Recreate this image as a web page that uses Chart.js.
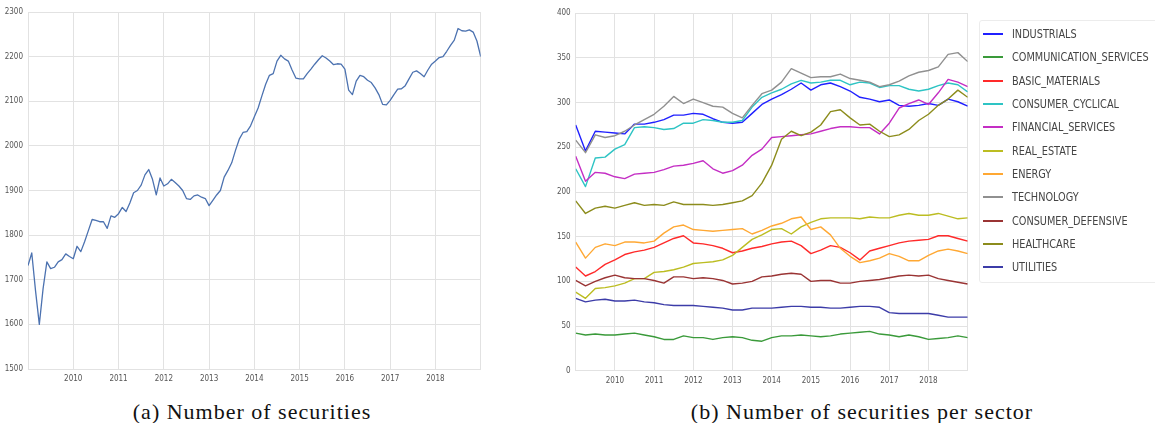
<!DOCTYPE html>
<html>
<head>
<meta charset="utf-8">
<script src="https://cdn.jsdelivr.net/npm/chart.js@4.4.0/dist/chart.umd.min.js"></script>
<style>
  body { margin: 0; background: #fff; width: 1155px; height: 423px; overflow: hidden; position: relative; }
  canvas { position: absolute; top: 0; }
  #chartA { left: 0; }
  #chartB { left: 540px; }
  .caption { position: absolute; top: 401px; font-family: "Liberation Serif", serif; font-size: 22px;
             letter-spacing: 1px; line-height: 22px; color: #111; white-space: nowrap; transform: translateX(-50%); }
  #legend { position: absolute; left: 979px; top: 20px; width: 190px; height: 261px;
            border: 1px solid #ececec; border-radius: 3px; }
  .item { position: absolute; left: 0; height: 14px; white-space: nowrap;
          font: 12px "Liberation Sans Narrow", "DejaVu Sans Condensed", sans-serif; color: #444; }
  .swatch { position: absolute; left: 3px; top: 6px; width: 20px; height: 2px; }
  .label { position: absolute; left: 32px; top: 0; line-height: 14px; transform: scaleX(0.9); transform-origin: left center; }
</style>
</head>
<body>
<canvas id="chartA" width="490" height="392"></canvas>
<canvas id="chartB" width="440" height="392"></canvas>
<div id="legend"></div>
<div class="caption" style="left:252px">(a) Number of securities</div>
<div class="caption" style="left:862px">(b) Number of securities per sector</div>
<script>
// (a) total number of securities, one value per month from Jan 2009
const totalSecurities = [
    1732, 1760, 1675, 1600, 1680, 1740, 1725, 1728, 1740, 1745, 1758, 1752,
    1747, 1775, 1763, 1785, 1810, 1835, 1833, 1830, 1830, 1815, 1843, 1840,
    1848, 1862, 1853, 1872, 1895, 1900, 1912, 1935, 1947, 1925, 1890, 1928,
    1910, 1915, 1925, 1918, 1910, 1900, 1882, 1880, 1888, 1890, 1885, 1882,
    1866, 1878, 1890, 1900, 1930, 1945, 1962, 1990, 2015, 2030, 2032, 2045,
    2065, 2085, 2112, 2138, 2158, 2162, 2190, 2203, 2195, 2190, 2170, 2152,
    2150, 2150, 2162, 2172, 2183, 2193, 2202, 2197, 2190, 2182, 2184, 2183,
    2172, 2125, 2115, 2145, 2158, 2155, 2147, 2142, 2130, 2115, 2093, 2092,
    2102, 2115, 2127, 2128, 2135, 2150, 2165, 2168, 2162, 2155, 2170, 2183,
    2190, 2198, 2200, 2212, 2225, 2237, 2263, 2258, 2257, 2260, 2255, 2235,
    2200
];

// (b) securities per sector, one value per quarter from Jan 2009
const sectorNames = [
    'INDUSTRIALS', 'COMMUNICATION_SERVICES', 'BASIC_MATERIALS', 'CONSUMER_CYCLICAL',
    'FINANCIAL_SERVICES', 'REAL_ESTATE', 'ENERGY', 'TECHNOLOGY',
    'CONSUMER_DEFENSIVE', 'HEALTHCARE', 'UTILITIES'
];
const sectorColors = [
    '#2020ff', '#3a9a3a', '#ff2a2a', '#2ec4c4', '#c42ec4', '#bcbd22',
    '#ffa833', '#909090', '#9a3434', '#8c8c1c', '#3c3ca8'
];
const industrials = [275, 246, 268, 267, 266, 265, 276, 276, 278, 281, 286, 286, 288, 287, 282, 278, 277, 278, 288, 298, 304, 309, 315, 322, 314, 320, 322, 318, 313, 306, 304, 301, 303, 297, 296, 297, 299, 297, 304, 301, 296];
const communication = [42, 40, 41, 40, 40, 41, 42, 40, 38, 35, 35, 39, 37, 37, 35, 37, 38, 37, 34, 33, 37, 39, 39, 40, 39, 38, 39, 41, 42, 43, 44, 41, 40, 38, 40, 38, 35, 36, 37, 39, 37];
const basicMaterials = [116, 106, 111, 119, 124, 130, 133, 135, 138, 143, 148, 151, 143, 142, 140, 137, 132, 134, 137, 139, 142, 144, 145, 140, 131, 135, 140, 138, 132, 124, 134, 137, 140, 143, 145, 146, 147, 151, 151, 148, 145];
const consumerCyclical = [226, 206, 238, 239, 248, 253, 272, 273, 272, 270, 271, 277, 277, 281, 280, 278, 278, 280, 295, 306, 311, 315, 321, 325, 322, 323, 325, 325, 320, 323, 322, 317, 319, 319, 315, 313, 315, 319, 322, 320, 312];
const financial = [240, 212, 222, 221, 217, 215, 220, 221, 222, 225, 229, 230, 232, 235, 226, 221, 224, 230, 241, 248, 261, 262, 263, 264, 265, 268, 271, 273, 273, 272, 272, 265, 277, 294, 299, 303, 298, 311, 326, 323, 318];
const realEstate = [88, 81, 92, 93, 95, 98, 103, 103, 110, 111, 113, 116, 120, 121, 122, 124, 129, 138, 147, 152, 158, 159, 153, 161, 166, 170, 171, 171, 171, 170, 172, 171, 171, 174, 176, 174, 174, 176, 173, 170, 171];
const energy = [144, 126, 138, 142, 140, 144, 144, 143, 145, 154, 161, 163, 158, 157, 156, 157, 158, 159, 153, 157, 162, 165, 170, 172, 158, 161, 152, 137, 128, 121, 123, 126, 131, 128, 123, 123, 129, 134, 136, 134, 131];
const technology = [258, 244, 264, 261, 263, 268, 275, 281, 287, 296, 307, 299, 304, 300, 296, 295, 288, 283, 297, 310, 314, 323, 338, 333, 328, 329, 329, 332, 327, 325, 323, 318, 320, 324, 330, 334, 336, 340, 354, 356, 346];
const consumerDefensive = [101, 95, 100, 104, 107, 104, 103, 103, 101, 98, 105, 105, 103, 104, 103, 101, 97, 98, 100, 105, 106, 108, 109, 108, 100, 101, 101, 98, 98, 100, 101, 102, 104, 106, 107, 106, 107, 103, 101, 99, 97];
const healthcare = [190, 176, 182, 184, 182, 185, 188, 185, 186, 185, 189, 186, 186, 186, 185, 186, 188, 190, 196, 210, 230, 259, 268, 263, 267, 275, 290, 292, 283, 275, 276, 268, 262, 264, 270, 280, 287, 297, 304, 314, 306];
const utilities = [81, 77, 79, 80, 78, 78, 79, 77, 76, 74, 73, 73, 73, 72, 71, 70, 68, 68, 70, 70, 70, 71, 72, 72, 71, 71, 70, 70, 71, 72, 72, 71, 65, 64, 64, 64, 64, 62, 60, 60, 60];
const sectorValues = [industrials, communication, basicMaterials, consumerCyclical, financial,
    realEstate, energy, technology, consumerDefensive, healthcare, utilities];

const yearTicks = [2010, 2011, 2012, 2013, 2014, 2015, 2016, 2017, 2018];

// time positions (fractional years) for the samples
const months = totalSecurities.map((v, i) => 2009 + i / 12);
const quarters = industrials.map((v, i) => 2009 + i / 4);

const tickFont = { family: '"Liberation Sans Narrow", "DejaVu Sans Condensed", sans-serif', size: 8 };
const gridColor = '#e2e2e2';

function yearAxis(height) {
    return {
        type: 'linear',
        min: 2009,
        max: 2019,
        afterFit: scale => { scale.height = height; },
        ticks: {
            stepSize: 1,
            padding: 5,
            maxRotation: 0,
            autoSkip: false,
            font: tickFont,
            color: '#555',
            callback: v => yearTicks.includes(v) ? String(v) : ''
        },
        grid: { color: gridColor, drawTicks: false },
        border: { color: gridColor }
    };
}

function valueAxis(min, max, step, width) {
    return {
        min: min,
        max: max,
        afterFit: scale => { scale.width = width; },
        ticks: { stepSize: step, padding: 5, font: tickFont, color: '#555', callback: v => String(v) },
        grid: { color: gridColor, drawTicks: false },
        border: { color: gridColor }
    };
}

const commonOptions = {
    responsive: false,
    animation: false,
    plugins: { legend: { display: false }, tooltip: { enabled: false } },
    elements: { point: { radius: 0 }, line: { tension: 0, borderJoinStyle: 'round' } }
};

new Chart(document.getElementById('chartA'), {
    type: 'line',
    data: {
        datasets: [{
            data: totalSecurities.map((v, i) => ({ x: months[i], y: v })),
            borderColor: '#4c72b0',
            borderWidth: 1.3,
            fill: false
        }]
    },
    options: {
        ...commonOptions,
        layout: { padding: { left: 0, top: 12, right: 9.3, bottom: 0 } },
        scales: {
            x: yearAxis(23),
            y: valueAxis(1500, 2300, 100, 28)
        }
    }
});

new Chart(document.getElementById('chartB'), {
    type: 'line',
    data: {
        datasets: sectorNames.map((name, s) => ({
            label: name,
            data: sectorValues[s].map((v, i) => ({ x: quarters[i], y: v })),
            borderColor: sectorColors[s],
            borderWidth: 1.4,
            fill: false,
            order: sectorNames.length - s
        }))
    },
    options: {
        ...commonOptions,
        layout: { padding: { left: 0, top: 13.3, right: 12.3, bottom: 0 } },
        scales: {
            x: yearAxis(21.3),
            y: valueAxis(0, 400, 50, 35.7)
        }
    }
});

// legend box on the right
const legend = document.getElementById('legend');
sectorNames.forEach((name, s) => {
    const item = document.createElement('div');
    item.className = 'item';
    item.style.top = (6 + s * 23.33) + 'px';
    item.innerHTML = `<span class="swatch" style="background:${sectorColors[s]}"></span><span class="label">${name}</span>`;
    legend.appendChild(item);
});
</script>
</body>
</html>
